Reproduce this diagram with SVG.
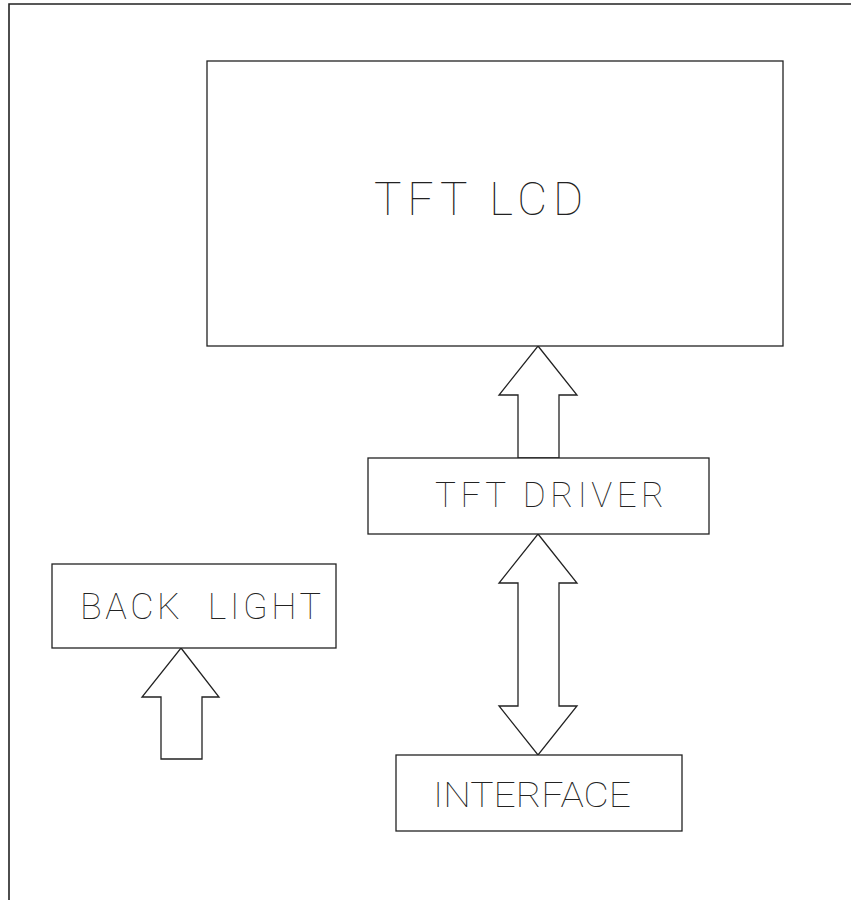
<svg xmlns="http://www.w3.org/2000/svg" width="851" height="900" viewBox="0 0 851 900">
<style>
.box{fill:#fff;stroke:#222;stroke-width:1.3}
.arr{fill:#fff;stroke:#222;stroke-width:1.3;stroke-linejoin:miter}
.frame{fill:none;stroke:#222;stroke-width:1.6}
.lbl{font-family:Roboto,Lato,"Liberation Sans",sans-serif;font-weight:100;fill:#222;white-space:pre}
</style>
<rect width="851" height="900" fill="#fff"/>
<g id="frame">
<polyline class="frame" points="9,900 9,4 851,4"/>
</g>
<g id="connectors">
<polygon class="arr" points="538,346 577,395 559,395 559,458 518,458 518,395 499,395"/>
<polygon class="arr" points="538,534 577,583 559,583 559,706 577,706 538,755 499,706 518,706 518,583 499,583"/>
<polygon class="arr" points="181,648 219,697 202,697 202,759 161,759 161,697 142,697"/>
</g>
<g id="tft-lcd">
<rect class="box" x="207" y="61" width="576" height="285"/>
<text class="lbl" x="374" y="215" font-size="46" textLength="209" lengthAdjust="spacing">TFT LCD</text>
</g>
<g id="tft-driver">
<rect class="box" x="368" y="458" width="341" height="76"/>
<text class="lbl" x="435" y="507" font-size="35" textLength="229" lengthAdjust="spacing">TFT DRIVER</text>
</g>
<g id="back-light">
<rect class="box" x="52" y="564" width="284" height="84"/>
<text class="lbl" x="80" y="619" font-size="36" textLength="241" lengthAdjust="spacing" xml:space="preserve">BACK  LIGHT</text>
</g>
<g id="interface">
<rect class="box" x="396" y="755" width="286" height="76"/>
<text class="lbl" x="433" y="807" font-size="35" textLength="198" lengthAdjust="spacingAndGlyphs">INTERFACE</text>
</g>
</svg>
